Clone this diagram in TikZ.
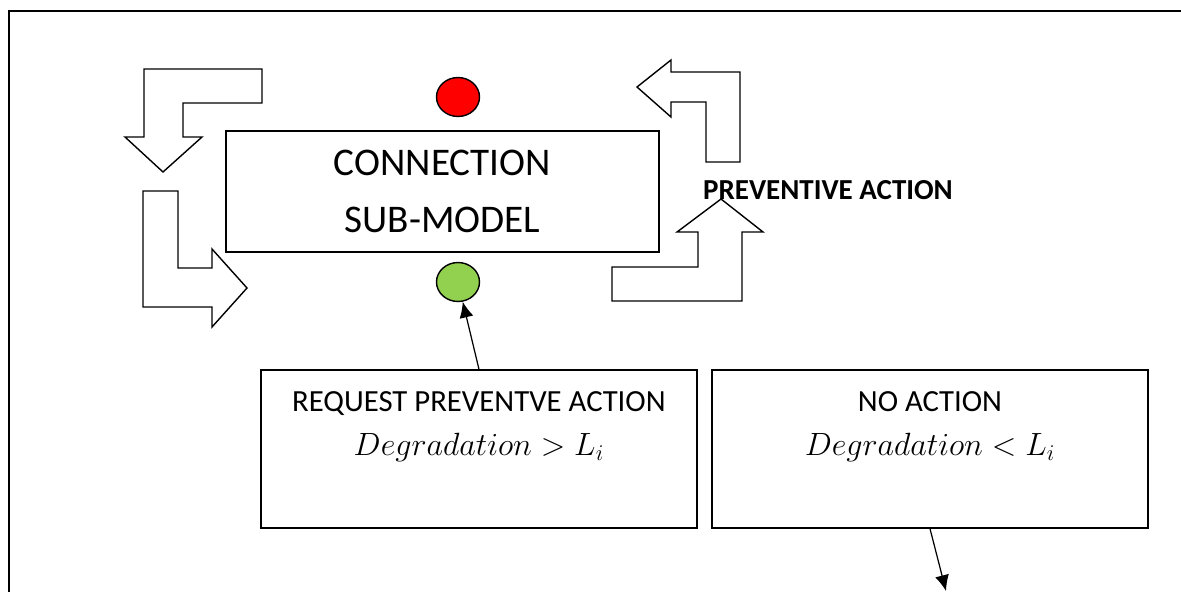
\RequirePackage{fix-cm}
\documentclass[tikz,border=0pt]{standalone}
\usepackage{amssymb, amsmath}
\usepackage{fontspec}
\setmainfont{Carlito}
\usetikzlibrary{shapes,arrows.meta,positioning,calc}

\definecolor{lampred}{HTML}{FF0000}
\definecolor{lampgreen}{HTML}{92D050}

\newcommand{\mathline}[1]{{\fontsize{18.3}{25}\selectfont$#1$}}

\begin{document}
\begin{tikzpicture}[auto, x=0.02cm, y=-0.02cm, >={Latex[length=9pt,width=8pt]}]
\tikzset{
block/.style    = {draw, shape=rectangle, line width=0.8pt, inner sep=0pt},
blocktext/.style = {inner sep=0pt, align=center, font=\fontsize{17.5}{25}\selectfont},
lamp/.style     = {draw, shape=ellipse, line width=0.8pt, minimum width=0.86cm, minimum height=0.78cm, inner sep=0pt},
turn/.style     = {draw, line width=0.8pt, line join=miter},
}
    \useasboundingbox (0,0) rectangle (1181,592);

    % Frame
    \draw [line width=1pt] (9,592) -- (9,11) -- (1181,11);

    % Main nodes
    \node [block, minimum width=8.66cm, minimum height=2.42cm, align=center,
           font=\fontsize{22.3}{32}\selectfont] (connection) at (442.5,191.5) {CONNECTION\\SUB-MODEL};
    \node [lamp, fill=lampred]   (red)   at (458,97)  {};
    \node [lamp, fill=lampgreen] (green) at (458,282) {};

    \node [block, minimum width=8.72cm, minimum height=3.16cm] (request)  at (479,449) {};
    \node [block, minimum width=8.72cm, minimum height=3.16cm] (noaction) at (930,449) {};
    \node [blocktext, below=0.44cm of request.north]  (requesttext)  {REQUEST PREVENTVE ACTION\\\mathline{Degradation > L_i}};
    \node [blocktext, below=0.44cm of noaction.north] (noactiontext) {NO ACTION\\\mathline{Degradation < L_i}};

    % Turning arrows
    \draw [turn] (262,69) -- (144,69) -- (144,137) -- (125,137) -- (163,172) -- (202,137)
                 -- (183,137) -- (183,103) -- (262,103) -- cycle;
    \draw [turn] (143,191) -- (178,191) -- (178,268) -- (212,268) -- (212,249) -- (247,288)
                 -- (212,327) -- (212,307) -- (143,307) -- cycle;
    \draw [turn] (637,87) -- (671,60) -- (671,72) -- (740,72) -- (740,162) -- (706,162)
                 -- (706,102) -- (671,102) -- (671,117) -- cycle;
    \draw [turn] (612,267) -- (698,267) -- (698,232) -- (677,232) -- (721,199) -- (763,232)
                 -- (742,232) -- (742,301) -- (612,301) -- cycle;

    \node [inner sep=0pt, font=\bfseries\fontsize{16.5}{20}\selectfont] (preventive) at (828,190) {PREVENTIVE ACTION};

    % Main edges
    \coordinate (exit) at (946,591);
    \draw [->, line width=0.7pt] (request.north) -- (green);
    \draw [->, line width=0.7pt] (noaction.south) -- (exit);

\end{tikzpicture}
\end{document}
